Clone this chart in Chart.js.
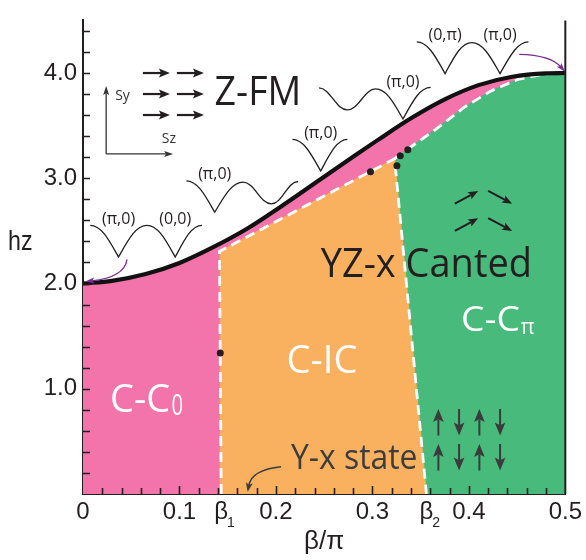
<!DOCTYPE html>
<html>
<head>
<meta charset="utf-8">
<script src="https://cdn.jsdelivr.net/npm/chart.js@4.4.0/dist/chart.umd.min.js"></script>
<style>
  html, body { margin: 0; padding: 0; background: #fff; }
  canvas { display: block; }
</style>
</head>
<body>
<canvas id="phase" width="586" height="560"></canvas>
<script>
// Upper critical field of the fully polarised Z-FM phase
const betaFM = [0, 0.03, 0.065, 0.10, 0.135, 0.17, 0.205, 0.225, 0.25, 0.28, 0.305, 0.34, 0.375, 0.41, 0.445, 0.48, 0.5];
const hzFM   = [2.00, 2.025, 2.09, 2.195, 2.345, 2.52, 2.73, 2.855, 3.015, 3.205, 3.36, 3.57, 3.75, 3.885, 3.965, 3.997, 4.00];

// C-IC region: beta1 line, upper canted boundary, beta2 line
const betaIC = [0.1433, 0.1415, 0.323, 0.356];
const hzIC   = [0, 2.305, 3.185, 0];

// Upper boundary of the C-Cpi region (from the C-IC corner to beta/pi = 0.5)
const betaCpi = [0.323, 0.337, 0.365, 0.396, 0.423, 0.451, 0.478, 0.5];
const hzCpi   = [3.185, 3.28, 3.46, 3.68, 3.83, 3.94, 3.99, 4.00];

// Special points on the boundaries
const betaDots = [0.1423, 0.298, 0.3254, 0.3289, 0.3367];
const hzDots   = [1.34, 3.062, 3.12, 3.213, 3.271];

// Axis ticks
const beta1 = 0.1433, beta2 = 0.356;
const xTickValues = [0, 0.1, beta1, 0.2, 0.3, beta2, 0.4, 0.5];
const xTickLabels = ['0', '0.1', 'β', '0.2', '0.3', 'β', '0.4', '0.5'];
const xTickSubs   = ['', '', '1', '', '', '2', '', ''];
const yTickValues = [1, 2, 3, 4];
const yTickLabels = ['1.0', '2.0', '3.0', '4.0'];

const pts = (xs, ys) => xs.map((x, i) => ({ x, y: ys[i] }));

const INK = '#231f20';
const PINK = '#f274ab', ORANGE = '#f9b05f', GREEN = '#48ba7c', PURPLE = '#7b2c8f';
const AXIS_FONT = "'Liberation Sans', Arial, sans-serif";
const LABEL_FONT = "'Open Sans', 'Noto Sans', sans-serif";

// ---- drawing helpers ----
function arrowHead(ctx, tipX, tipY, ang, len, wid, color) {
  const bx = tipX - len * Math.cos(ang), by = tipY - len * Math.sin(ang);
  const nx = -Math.sin(ang) * wid / 2, ny = Math.cos(ang) * wid / 2;
  ctx.fillStyle = color;
  ctx.beginPath();
  ctx.moveTo(tipX, tipY);
  ctx.lineTo(bx + nx, by + ny);
  ctx.lineTo(bx + 0.2 * len * Math.cos(ang), by + 0.2 * len * Math.sin(ang));
  ctx.lineTo(bx - nx, by - ny);
  ctx.closePath();
  ctx.fill();
}
function arrow(ctx, x0, y0, x1, y1, len, wid, lw, color) {
  const ang = Math.atan2(y1 - y0, x1 - x0);
  ctx.strokeStyle = color;
  ctx.lineWidth = lw;
  ctx.beginPath();
  ctx.moveTo(x0, y0);
  ctx.lineTo(x1 - 0.8 * len * Math.cos(ang), y1 - 0.8 * len * Math.sin(ang));
  ctx.stroke();
  arrowHead(ctx, x1, y1, ang, len, wid, color);
}
function curvedArrow(ctx, x0, y0, cx, cy, x1, y1, len, wid, lw, color) {
  const ang = Math.atan2(y1 - cy, x1 - cx);
  ctx.strokeStyle = color;
  ctx.lineWidth = lw;
  ctx.beginPath();
  ctx.moveTo(x0, y0);
  ctx.quadraticCurveTo(cx, cy, x1 - 0.7 * len * Math.cos(ang), y1 - 0.7 * len * Math.sin(ang));
  ctx.stroke();
  arrowHead(ctx, x1, y1, ang, len, wid, color);
}
function fitText(ctx, str, x, yBase, width, size, color, family) {
  ctx.save();
  ctx.font = size + 'px ' + (family || LABEL_FONT);
  const w = ctx.measureText(str).width;
  ctx.translate(x, yBase);
  ctx.scale(width / w, 1);
  ctx.fillStyle = color;
  ctx.textAlign = 'left';
  ctx.textBaseline = 'alphabetic';
  ctx.fillText(str, 0, 0);
  ctx.restore();
}
// Schematic dispersion: knots are [dx, dy, kind], kind = max | min | cusp
function sketch(ctx, x0, y0, knots) {
  ctx.beginPath();
  ctx.moveTo(x0 + knots[0][0], y0 + knots[0][1]);
  for (let i = 1; i < knots.length; i++) {
    const a = knots[i - 1], b = knots[i];
    const ax = x0 + a[0], ay = y0 + a[1], bx = x0 + b[0], by = y0 + b[1];
    const dx = bx - ax, dy = by - ay;
    const c1 = a[2] === 'cusp' ? [ax + 0.33 * dx, ay + 0.52 * dy] : [ax + 0.4 * dx, ay];
    const c2 = b[2] === 'cusp' ? [bx - 0.33 * dx, by - 0.52 * dy] : [bx - 0.4 * dx, by];
    ctx.bezierCurveTo(c1[0], c1[1], c2[0], c2[1], bx, by);
  }
  ctx.strokeStyle = INK;
  ctx.lineWidth = 1.3;
  ctx.stroke();
}

const sketches = [
  { at: [0.0075, 2.553], knots: [[0,0,'max'],[28.3,31.7,'cusp'],[56.7,0,'max'],[85,31.7,'cusp'],[111.7,0,'max']], labels: [['(π,0)', 28.3], ['(0,0)', 85]] },
  { at: [0.1072, 2.975], knots: [[0,0,'max'],[28.3,31.3,'cusp'],[56.7,1.3,'max'],[85,23,'min'],[111.7,0.6,'max']], labels: [['(π,0)', 28.3]] },
  { at: [0.2171, 3.370], knots: [[0,0,'max'],[28.3,31.7,'cusp'],[55,0,'max']], labels: [['(π,0)', 28.3]] },
  { at: [0.2446, 3.858], knots: [[0,0,'max'],[28.3,22,'min'],[56.7,1,'max'],[84,31,'cusp'],[111.7,-0.6,'max']], labels: [['(π,0)', 84]] },
  { at: [0.346, 4.296], knots: [[0,0,'max'],[28.3,31.7,'cusp'],[55,0.7,'max'],[83.3,31.7,'cusp'],[111.7,0,'max']], labels: [['(0,π)', 28.3], ['(π,0)', 83.3]] }
];

const decor = {
  id: 'decor',
  afterDatasetsDraw(chart) {
    const { ctx, scales: { x: xs, y: ys } } = chart;
    const P = (b, h) => [xs.getPixelForValue(b), ys.getPixelForValue(h)];
    ctx.save();
    ctx.lineCap = 'butt';

    // dispersion sketches along the Z-FM boundary
    sketches.forEach(s => {
      const [x0, y0] = P(s.at[0], s.at[1]);
      sketch(ctx, x0, y0, s.knots);
      ctx.font = '16px ' + LABEL_FONT;
      ctx.fillStyle = INK;
      ctx.textAlign = 'center';
      ctx.textBaseline = 'middle';
      s.labels.forEach(([t, dx]) => ctx.fillText(t, x0 + dx, y0 - 6));
    });

    // purple arrows marking the two ends of the boundary
    let [tx, ty] = P(0.0024, 2.019);
    curvedArrow(ctx, tx + 41.7, ty - 22, tx + 39, ty - 4, tx, ty, 9, 6, 1.4, PURPLE);
    [tx, ty] = P(0.4996, 4.012);
    curvedArrow(ctx, tx - 45.6, ty - 17.4, tx - 14.3, ty - 16.7, tx, ty, 9, 6, 1.4, PURPLE);

    // Z-FM spin arrows
    const [fx, fy] = P(0.0621, 4.0);
    for (let r = 0; r < 3; r++) {
      for (let c = 0; c < 2; c++) {
        const x0 = fx + c * 34, y0 = fy + r * 21;
        arrow(ctx, x0, y0, x0 + 27, y0, 11, 9, 2.2, INK);
      }
    }
    // spin-space axes
    const [ox, oy] = P(0.024, 3.231);
    arrow(ctx, ox, oy, ox, oy - 68, 9, 6, 1.3, '#333');
    arrow(ctx, ox, oy, ox + 67, oy, 9, 6, 1.3, '#333');
    ctx.font = '14px ' + LABEL_FONT;
    ctx.fillStyle = '#333';
    ctx.textAlign = 'left';
    ctx.textBaseline = 'middle';
    ctx.fillText('Sy', ox + 9, oy - 58);
    ctx.fillText('Sz', ox + 55.7, oy - 15);

    // canted spins
    const [dx0, dy0] = P(0.3855, 2.759);
    for (let r = 0; r < 2; r++) {
      const yy = dy0 + r * 27.3;
      arrow(ctx, dx0, yy, dx0 + 23.3, yy - 12.7, 10, 8, 2, INK);
      arrow(ctx, dx0 + 33.3, yy - 12.7, dx0 + 57.3, yy, 10, 8, 2, INK);
    }
    // collinear up/down spins
    const [ux, uy] = P(0.3684, 0.808);
    const colDx = [0, 20.7, 41, 61.7];
    for (let r = 0; r < 2; r++) {
      colDx.forEach((dx, c) => {
        const top = uy + r * 35, bot = top + 26.6;
        if (c % 2 === 0) arrow(ctx, ux + dx, bot, ux + dx, top, 13, 10.7, 2, '#3b3b3b');
        else arrow(ctx, ux + dx, top, ux + dx, bot, 13, 10.7, 2, '#3b3b3b');
      });
    }

    // phase names
    let [lx, ly] = P(0.1364, 3.694);
    fitText(ctx, 'Z-FM', lx, ly, 86.7, 39.6, INK);
    [lx, ly] = P(0.2464, 2.058);
    fitText(ctx, 'YZ-x Canted', lx, ly, 211.3, 40, INK);
    [lx, ly] = P(0.2109, 1.148);
    fitText(ctx, 'C-IC', lx, ly, 71, 37.4, '#fff');
    [lx, ly] = P(0.0281, 0.778);
    fitText(ctx, 'C-C', lx, ly, 60, 37.4, '#fff');
    [lx, ly] = P(0.0918, 0.753);
    fitText(ctx, '0', lx, ly, 11.6, 29.4, '#fff');
    [lx, ly] = P(0.3918, 1.549);
    fitText(ctx, 'C-C', lx, ly, 59, 35, '#fff');
    [lx, ly] = P(0.4539, 1.525);
    fitText(ctx, 'π', lx, ly, 13.7, 21, '#fff');
    [lx, ly] = P(0.2155, 0.238);
    fitText(ctx, 'Y-x state', lx, ly, 126.6, 35, '#3d3d3d');
    [tx, ty] = P(0.1707, 0.021);
    curvedArrow(ctx, tx + 33.4, ty - 25, tx + 4, ty - 22, tx, ty, 9, 7, 1.5, '#3d3d3d');

    ctx.restore();
  },
  afterDraw(chart) {
    const { ctx, chartArea: ca, scales: { x: xs, y: ys } } = chart;
    ctx.save();
    ctx.strokeStyle = INK;
    ctx.lineWidth = 1.6;
    // inward minor/major ticks
    ctx.beginPath();
    for (let k = 1; k < 25; k++) {
      const px = Math.round(xs.getPixelForValue(k / 50)) + 0.5;
      const len = k % 5 === 0 ? 8 : 6;
      ctx.moveTo(px, ca.bottom);
      ctx.lineTo(px, ca.bottom - len);
    }
    for (let k = 1; k < 23; k++) {
      const py = Math.round(ys.getPixelForValue(k / 5)) + 0.5;
      ctx.moveTo(ca.left, py);
      ctx.lineTo(ca.left + 7, py);
    }
    ctx.stroke();
    // right frame line
    ctx.lineWidth = 2;
    ctx.beginPath();
    ctx.moveTo(ca.right, ca.top);
    ctx.lineTo(ca.right, ca.bottom);
    ctx.stroke();

    // subscripts of the beta tick labels
    ctx.font = '14px ' + AXIS_FONT;
    ctx.fillStyle = INK;
    ctx.textAlign = 'center';
    ctx.textBaseline = 'alphabetic';
    xTickValues.forEach((v, i) => {
      if (xTickSubs[i]) ctx.fillText(xTickSubs[i], xs.getPixelForValue(v) + 9.7, ca.bottom + 32.7);
    });

    // vertical axis title
    fitText(ctx, 'hz', 8, 250, 24.5, 27, INK, AXIS_FONT);
    ctx.restore();
  }
};

const lineDefaults = { pointRadius: 0, pointHoverRadius: 0, fill: false, tension: 0 };

new Chart(document.getElementById('phase'), {
  type: 'line',
  data: {
    datasets: [
      { ...lineDefaults, label: 'points', data: pts(betaDots, hzDots), showLine: false, pointRadius: 3.5, pointBackgroundColor: INK, pointBorderWidth: 0 },
      { ...lineDefaults, label: 'Z-FM boundary', data: pts(betaFM, hzFM), borderColor: '#111', borderWidth: 4.2, cubicInterpolationMode: 'monotone', borderCapStyle: 'butt' },
      { ...lineDefaults, label: 'canted boundary', data: pts(betaCpi, hzCpi), borderColor: '#fff', borderWidth: 2.8, borderDash: [10, 6] },
      { ...lineDefaults, label: 'C-IC boundary', data: pts(betaIC, hzIC), borderColor: '#fff', borderWidth: 2.8, borderDash: [10, 6] },
      // C-IC drawn over C-Cpi, so its slanted beta2 edge bounds the green area
      { ...lineDefaults, label: 'C-IC', data: pts(betaIC.slice(1), hzIC.slice(1)), fill: 'origin', backgroundColor: ORANGE, borderColor: ORANGE, borderWidth: 1 },
      { ...lineDefaults, label: 'C-Cpi', data: pts(betaCpi, hzCpi), fill: 'origin', backgroundColor: GREEN, borderColor: GREEN, borderWidth: 1 },
      { ...lineDefaults, label: 'C-C0', data: pts(betaFM, hzFM), fill: 'origin', backgroundColor: PINK, borderColor: 'rgba(0,0,0,0)', borderWidth: 0, cubicInterpolationMode: 'monotone' }
    ]
  },
  options: {
    responsive: false,
    animation: false,
    devicePixelRatio: 1,
    events: [],
    layout: { padding: { top: 8, right: 17.7, left: 0, bottom: 0 } },
    plugins: {
      legend: { display: false },
      tooltip: { enabled: false },
      filler: { drawTime: 'beforeDatasetDraw' }
    },
    scales: {
      x: {
        type: 'linear',
        min: 0,
        max: 0.5,
        grid: { display: false, drawTicks: false },
        border: { display: true, color: INK, width: 2 },
        afterBuildTicks: s => { s.ticks = xTickValues.map(v => ({ value: v })); },
        afterFit: s => { s.height = 66; },
        ticks: {
          autoSkip: false,
          maxRotation: 0,
          padding: 4,
          color: INK,
          font: { family: AXIS_FONT, size: 24 },
          callback: (v, i) => xTickLabels[i]
        },
        title: {
          display: true,
          text: 'β/π',
          color: INK,
          font: { family: AXIS_FONT, size: 26 },
          padding: { top: 0, bottom: 3 }
        }
      },
      y: {
        type: 'linear',
        min: 0,
        max: 4.5,
        grid: { display: false, drawTicks: false },
        border: { display: true, color: INK, width: 2 },
        afterBuildTicks: s => { s.ticks = yTickValues.map(v => ({ value: v })); },
        afterFit: s => { s.width = 83; },
        ticks: {
          autoSkip: false,
          padding: 6,
          color: INK,
          font: { family: AXIS_FONT, size: 24 },
          callback: (v, i) => yTickLabels[i]
        }
      }
    }
  },
  plugins: [decor]
});
</script>
</body>
</html>
